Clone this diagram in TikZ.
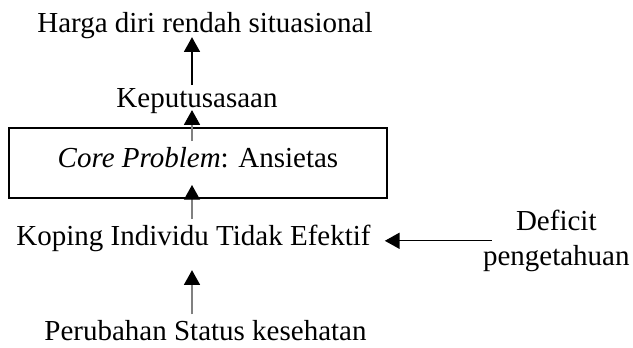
\documentclass[tikz,border=0pt]{standalone}
\usepackage{fontspec}
\setmainfont{Liberation Serif}
\usetikzlibrary{arrows.meta,positioning,calc}

\begin{document}
\begin{tikzpicture}[
  x=0.75pt, y=-0.75pt,
  txt/.style={inner sep=0pt, anchor=base, font=\fontsize{21.75}{26.25}\selectfont},
  corebox/.style={draw, line width=1.5pt, inner sep=0pt, minimum width=283.5pt, minimum height=52.5pt, text height=15pt, text depth=9pt, font=\fontsize{21.75}{26.25}\selectfont},
  arr/.style={-{Triangle[length=11pt, width=12pt, color=black]}, line width=0.9pt},
  grayarr/.style={arr, draw=gray},
  >=Stealth
]
  \useasboundingbox (0,0) rectangle (633,347);
  \coordinate (col) at (192,0);

  \node[txt] (harga) at (205,32) {Harga diri rendah situasional};
  \node[txt] (kep) at (197,107) {Keputusasaan};
  \node[corebox] (core) at (198,163) {\textit{Core Problem}: Ansietas};
  \node[txt] (koping) at (193.5,245) {Koping Individu Tidak Efektif};
  \node[txt, anchor=center, align=center] (deficit) at (556.3,240.8) {Deficit\\pengetahuan};
  \node[txt] (perubahan) at (205.5,340) {Perubahan Status kesehatan};

  \draw[arr, shorten <=2pt, shorten >=-1pt] (kep.north -| col) -- (harga.south -| col);
  \draw[grayarr, shorten <=-10.5pt, shorten >=-2.5pt] (core.north -| col) -- (kep.south -| col);
  \draw[grayarr, shorten <=3.9pt, shorten >=-10.5pt] (koping.north -| col) -- (core.south -| col);
  \draw[grayarr, shorten <=3.9pt, shorten >=14pt] (perubahan.north -| col) -- (koping.south -| col);
  \draw[arr, shorten <=-6.75pt, shorten >=10.5pt] (deficit.west) -- (koping.east |- deficit.west);
\end{tikzpicture}
\end{document}
